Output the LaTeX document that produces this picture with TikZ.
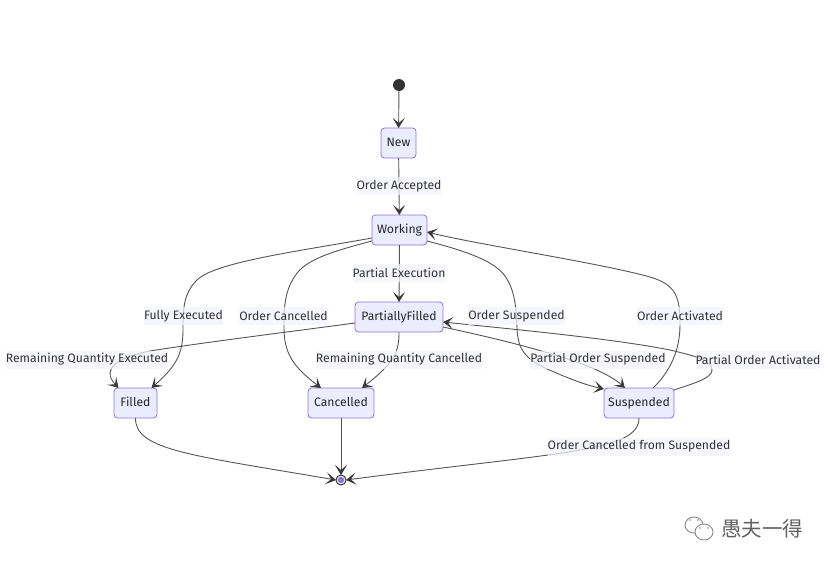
\documentclass[tikz,border=0pt]{standalone}
\usepackage{fontspec}
\setmainfont{Fira Sans}
\newfontfamily\cjk{Noto Sans CJK SC}
\usetikzlibrary{arrows.meta,calc}
\definecolor{statefill}{HTML}{ECECFF}
\definecolor{stateline}{HTML}{9370DB}
\definecolor{edgecol}{HTML}{555555}
\definecolor{tipcol}{HTML}{3A3A3A}
\definecolor{ink}{HTML}{333333}
\definecolor{labelbg}{HTML}{F2F2FF}
\tikzset{
  state/.style={draw=stateline,fill=statefill,line width=0.8pt,rounded corners=3.5pt,minimum height=30pt,inner sep=0pt,outer sep=0pt,text=black!85,font=\fontsize{12.2}{13}\selectfont},
  edge/.style={draw=edgecol,line width=0.9pt,-{Stealth[length=10pt,width=12pt,inset=5pt,color=tipcol]}},
  elabel/.style={fill=labelbg,fill opacity=0.72,text opacity=1,text=ink,inner xsep=0pt,inner ysep=0pt,minimum height=18pt,font=\fontsize{12.2}{13}\selectfont},
  wm/.style={draw=black!50,line width=0.8pt,fill=white},
}
\begin{document}
\begin{tikzpicture}[x=1pt,y=-1pt]
\useasboundingbox (0,0) rectangle (828,565);
\node[circle,fill=ink,minimum size=12pt,inner sep=0pt,outer sep=0pt] (start) at (399,85) {};
\node[state,minimum width=35pt] (new) at (398.5,143) {\raisebox{2pt}{New}};
\node[state,minimum width=55pt] (working) at (399.5,230) {\raisebox{2pt}{Working}};
\node[state,minimum width=88pt] (pf) at (399,317) {\raisebox{2pt}{PartiallyFilled}};
\node[state,minimum width=43pt] (filled) at (135.5,403) {\raisebox{2pt}{Filled}};
\node[state,minimum width=66pt] (cancelled) at (341,403) {\raisebox{2pt}{Cancelled}};
\node[state,minimum width=70pt] (suspended) at (639,403) {\raisebox{2pt}{Suspended}};
\node[circle,draw=ink,fill=white,line width=1pt,minimum size=10pt,inner sep=0pt,outer sep=0pt] (end) at (341,480) {};
\node[circle,fill=stateline,minimum size=6.5pt,inner sep=0pt] (endin) at (end) {};

\draw[edge] (start) -- (new);
\draw[edge] (new) -- (working);
\draw[edge] (working) -- (pf);
\draw[edge] ([yshift=7pt]working.south west) .. controls (300,251) and (215,262) .. (197,280)
  .. controls (183,294) and (183,310) .. (183,330)
  .. controls (183,355) and (175,367) .. ([xshift=16pt]filled.north);
\draw[edge] ([yshift=4pt]working.south west) .. controls (330,252) and (305,260) .. (295,276)
  .. controls (284,292) and (284,310) .. (284,328)
  .. controls (284,355) and (295,368) .. ([xshift=-20pt]cancelled.north);
\draw[edge] ([yshift=4pt]working.south east) .. controls (470,252) and (495,262) .. (505,276)
  .. controls (516,292) and (516,310) .. (517,328)
  .. controls (518,350) and (525,358) .. (545,368)
  .. controls (565,377) and (585,385) .. ([yshift=-1pt]suspended.north west);
\draw[edge] ([xshift=14pt]suspended.north) .. controls (670,372) and (680,350) .. (680,325)
  .. controls (680,300) and (678,285) .. (650,277)
  .. controls (600,263) and (480,245) .. ([yshift=13pt]working.south east);
\draw[edge] ([yshift=9pt]pf.south west) .. controls (280,333) and (200,343) .. (150,351)
  .. controls (120,357) and (100,368) .. ([xshift=-17pt]filled.north);
\draw[edge] (pf.south) .. controls (399,352) and (395,362) .. (362,388);
\draw[edge] ([yshift=5pt]pf.south east) .. controls (480,335) and (520,344) .. (565,358)
  .. controls (590,366) and (612,376) .. ([xshift=-14pt]suspended.north);
\draw[edge] ([yshift=-2pt]suspended.north east) .. controls (695,383) and (712,378) .. (712,370)
  .. controls (712,360) and (695,356) .. (670,350)
  .. controls (610,338) and (500,328) .. ([yshift=10pt]pf.south east);
\draw[edge] (filled.south) .. controls (135,450) and (190,455) .. (end.west);
\draw[edge] (cancelled.south) -- (end);
\draw[edge] (suspended.south) .. controls (639,452) and (560,452) .. (end.east);

\node[elabel] (l1) at (399,186) {Order Accepted};
\node[elabel] (l2) at (399,273) {Partial Execution};
\node[elabel] (l3) at (183.5,316) {Fully Executed};
\node[elabel] (l4) at (283.5,316) {Order Cancelled};
\node[elabel] (l5) at (516.5,316) {Order Suspended};
\node[elabel] (l6) at (680,316) {Order Activated};
\node[elabel] (l7) at (87,359.5) {Remaining Quantity Executed};
\node[elabel] (l8) at (399,359.5) {Remaining Quantity Cancelled};
\node[elabel] (l9) at (598,359.5) {Partial Order Suspended};
\node[elabel] (l10) at (758,359.5) {Partial Order Activated};
\node[elabel] (l11) at (639,446.5) {Order Cancelled from Suspended};

\draw[wm] (694,525) ellipse (9pt and 8pt);
\fill[black!50] (690,520) circle (0.9pt) (698,520) circle (0.9pt);
\draw[wm] (704,532) ellipse (9pt and 8pt);
\fill[black!50] (700,528) circle (0.9pt) (708,528) circle (0.9pt);
\node[text=black!62,font=\cjk\fontsize{20.5}{22}\selectfont,inner sep=0pt] (wmark) at (762,529) {愚夫一得};
\end{tikzpicture}
\end{document}
